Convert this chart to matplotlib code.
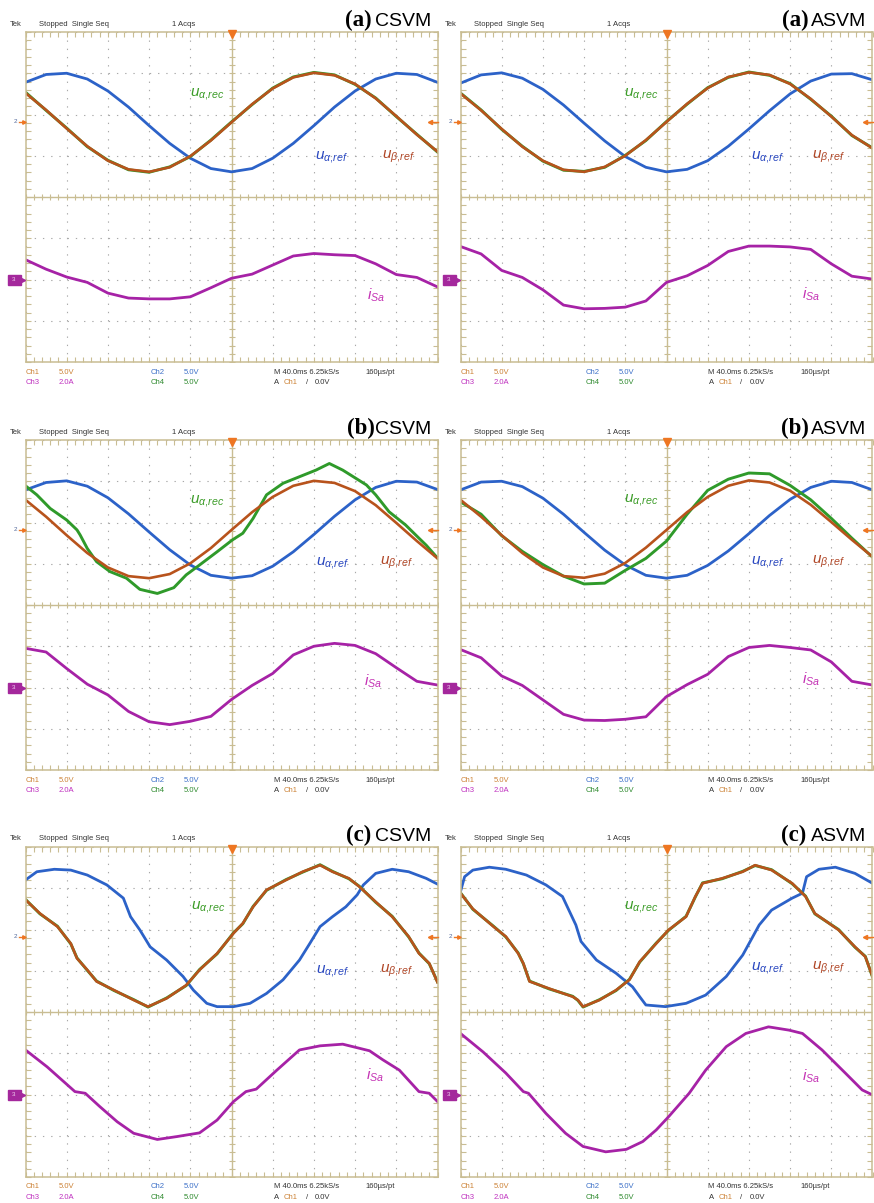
import matplotlib.pyplot as plt
import numpy as np
from matplotlib.patches import Rectangle

plt.rcParams['font.family'] = ['Liberation Sans', 'DejaVu Sans']
plt.rcParams['mathtext.fontset'] = 'custom'
plt.rcParams['mathtext.it'] = 'Liberation Sans:italic'
plt.rcParams['mathtext.rm'] = 'Liberation Sans'

# screen values in divisions (Ch1/Ch2/Ch4 5 V/div, Ch3 2 A/div), time in ms (40 ms/div)
t_ms = [0, 20, 40, 60, 80, 100, 120, 140, 160, 180, 200, 220, 240, 260, 280, 300, 320, 340, 360, 380, 400]

# (a) CSVM
ua_ref_a_csvm = [2.78, 2.97, 3.00, 2.86, 2.57, 2.18, 1.73, 1.30, 0.94, 0.69, 0.61, 0.69, 0.94, 1.30, 1.73, 2.18, 2.57, 2.86, 3.00, 2.97, 2.78]
ub_ref_a_csvm = [2.52, 2.11, 1.66, 1.23, 0.88, 0.67, 0.61, 0.72, 0.99, 1.37, 1.81, 2.25, 2.63, 2.90, 3.01, 2.95, 2.74, 2.39, 1.96, 1.51, 1.10]
ua_rec_a_csvm = [2.54, 2.10, 1.67, 1.22, 0.89, 0.66, 0.60, 0.73, 0.98, 1.38, 1.82, 2.24, 2.64, 2.91, 3.02, 2.96, 2.73, 2.40, 1.95, 1.52, 1.09]
isa_a_csvm = [-1.52, -1.75, -1.94, -2.07, -2.33, -2.45, -2.47, -2.47, -2.42, -2.20, -1.97, -1.87, -1.65, -1.43, -1.37, -1.40, -1.42, -1.62, -1.88, -1.95, -2.18]

# (a) ASVM
ua_ref_a_asvm = [2.76, 2.96, 3.01, 2.88, 2.61, 2.23, 1.79, 1.36, 0.98, 0.72, 0.61, 0.67, 0.88, 1.23, 1.65, 2.09, 2.50, 2.81, 2.98, 2.99, 2.84]
ub_ref_a_asvm = [2.51, 2.10, 1.65, 1.22, 0.88, 0.66, 0.61, 0.73, 1.00, 1.38, 1.82, 2.26, 2.64, 2.91, 3.02, 2.96, 2.74, 2.38, 1.95, 1.50, 1.18]
ua_rec_a_asvm = [2.52, 2.11, 1.64, 1.23, 0.87, 0.65, 0.62, 0.72, 1.01, 1.37, 1.83, 2.25, 2.65, 2.90, 3.03, 2.95, 2.75, 2.37, 1.96, 1.49, 1.19]
isa_a_asvm = [-1.20, -1.38, -1.78, -1.95, -2.25, -2.62, -2.71, -2.70, -2.67, -2.52, -2.07, -1.91, -1.66, -1.32, -1.19, -1.19, -1.21, -1.27, -1.62, -1.92, -1.99]

# (b) CSVM
ua_ref_b_csvm = [2.79, 2.97, 3.01, 2.88, 2.60, 2.21, 1.77, 1.34, 0.97, 0.72, 0.65, 0.71, 0.94, 1.29, 1.71, 2.15, 2.55, 2.85, 3.00, 2.98, 2.80]
ub_ref_b_csvm = [2.55, 2.14, 1.69, 1.26, 0.91, 0.70, 0.65, 0.75, 1.01, 1.38, 1.82, 2.25, 2.62, 2.89, 3.01, 2.96, 2.76, 2.42, 1.99, 1.55, 1.13]
t_rec_b_csvm = [0, 11, 24, 40, 50, 53, 60, 69, 82, 98, 111, 128, 144, 156, 169, 186, 201, 211, 221, 234,
                250, 266, 282, 295, 308, 331, 340, 353, 369, 382, 389, 400]
ua_rec_b_csvm = [2.89, 2.67, 2.34, 2.06, 1.82, 1.70, 1.37, 1.05, 0.81, 0.65, 0.38, 0.28, 0.42, 0.73, 0.97, 1.29, 1.58, 1.74, 2.10, 2.67,
                 2.95, 3.11, 3.27, 3.43, 3.27, 2.91, 2.67, 2.26, 1.94, 1.62, 1.45, 1.14]
isa_b_csvm = [-1.05, -1.14, -1.54, -1.92, -2.18, -2.58, -2.83, -2.90, -2.82, -2.70, -2.29, -1.95, -1.66, -1.21, -1.00, -0.93, -0.98, -1.18, -1.52, -1.85, -1.94]

# (b) ASVM
ua_ref_b_asvm = [2.79, 2.98, 3.00, 2.87, 2.59, 2.20, 1.76, 1.33, 0.97, 0.72, 0.65, 0.72, 0.96, 1.31, 1.73, 2.17, 2.56, 2.85, 3.00, 2.97, 2.79]
ub_ref_b_asvm = [2.55, 2.14, 1.69, 1.26, 0.91, 0.70, 0.66, 0.76, 1.02, 1.39, 1.82, 2.25, 2.62, 2.89, 3.02, 2.97, 2.77, 2.43, 2.01, 1.58, 1.17]
ua_rec_b_asvm = [2.50, 2.20, 1.68, 1.30, 0.98, 0.70, 0.51, 0.53, 0.84, 1.13, 1.55, 2.20, 2.78, 3.05, 3.20, 3.18, 2.90, 2.55, 2.10, 1.62, 1.16]
isa_b_asvm = [-1.08, -1.28, -1.72, -1.95, -2.30, -2.65, -2.79, -2.80, -2.77, -2.71, -2.22, -1.93, -1.68, -1.25, -1.03, -0.98, -1.03, -1.09, -1.38, -1.85, -1.94]

# (c) CSVM
t_ref_c_csvm = [0, 11, 28, 44, 60, 79, 95, 102, 111, 121, 137, 153, 163, 176, 186, 202, 218, 234, 250, 266,
                276, 286, 298, 311, 322, 328, 340, 356, 372, 389, 400]
ua_ref_c_csvm = [3.20, 3.40, 3.46, 3.44, 3.32, 3.08, 2.76, 2.31, 1.99, 1.58, 1.26, 0.86, 0.53, 0.21, 0.13, 0.13, 0.21, 0.45, 0.78, 1.26,
                 1.66, 2.07, 2.31, 2.55, 2.84, 3.08, 3.36, 3.46, 3.40, 3.24, 3.10]
t_b_c_csvm = [0, 14, 31, 44, 50, 60, 69, 86, 105, 119, 137, 156, 169, 186, 202, 211, 221, 234, 253, 269,
              286, 298, 314, 324, 340, 356, 372, 382, 392, 400]
ub_ref_c_csvm = [2.72, 2.39, 2.07, 1.66, 1.30, 1.02, 0.74, 0.53, 0.29, 0.13, 0.33, 0.65, 1.02, 1.42, 1.91, 2.15, 2.55, 2.96, 3.20, 3.40,
                 3.56, 3.40, 3.24, 3.04, 2.67, 2.31, 1.83, 1.42, 1.18, 0.72]
ua_rec_c_csvm = [2.73, 2.38, 2.08, 1.65, 1.31, 1.01, 0.75, 0.52, 0.30, 0.12, 0.34, 0.64, 1.03, 1.41, 1.92, 2.14, 2.56, 2.95, 3.21, 3.39,
                 3.57, 3.41, 3.23, 3.05, 2.66, 2.32, 1.82, 1.43, 1.17, 0.73]
t_i_c_csvm = [0, 21, 48, 58, 72, 89, 105, 128, 147, 169, 186, 202, 214, 224, 244, 266, 286, 308, 334, 347, 363, 382, 392, 400]
isa_c_csvm = [-0.92, -1.33, -1.93, -1.97, -2.29, -2.66, -2.94, -3.09, -3.02, -2.93, -2.62, -2.17, -1.93, -1.87, -1.41, -0.92,
              -0.82, -0.78, -0.94, -1.16, -1.41, -1.93, -1.97, -2.17]

# (c) ASVM
t_ref_c_asvm = [0, 4, 12, 28, 44, 64, 83, 99, 112, 117, 132, 151, 167, 174, 180, 199, 219, 238, 258, 274,
                290, 302, 322, 332, 336, 348, 364, 383, 400]
ua_ref_c_asvm = [2.92, 3.28, 3.44, 3.51, 3.46, 3.32, 3.08, 2.80, 2.11, 1.71, 1.26, 0.94, 0.61, 0.37, 0.17, 0.13, 0.21, 0.41, 0.86, 1.38,
                 2.11, 2.47, 2.76, 2.88, 3.28, 3.46, 3.51, 3.36, 3.12]
t_b_c_asvm = [0, 12, 32, 44, 56, 61, 67, 86, 109, 114, 119, 135, 151, 164, 174, 190, 202, 219, 228, 235,
              254, 274, 286, 302, 322, 335, 344, 367, 383, 393, 400]
ub_ref_c_asvm = [2.88, 2.50, 2.07, 1.83, 1.42, 1.18, 0.74, 0.57, 0.37, 0.29, 0.13, 0.29, 0.53, 0.78, 1.22, 1.66, 1.99, 2.31, 2.80, 3.12,
                 3.24, 3.40, 3.56, 3.44, 3.12, 2.80, 2.39, 1.99, 1.58, 1.34, 0.86]
ua_rec_c_asvm = [2.89, 2.49, 2.08, 1.82, 1.43, 1.17, 0.75, 0.56, 0.38, 0.28, 0.12, 0.30, 0.52, 0.79, 1.21, 1.67, 1.98, 2.32, 2.79, 3.13,
                 3.23, 3.41, 3.55, 3.45, 3.11, 2.81, 2.38, 2.00, 1.57, 1.35, 0.85]
t_i_c_asvm = [0, 22, 44, 61, 66, 83, 102, 119, 141, 161, 177, 190, 202, 222, 238, 258, 277, 299, 319, 332, 351, 374, 390, 400]
isa_c_asvm = [-0.52, -0.97, -1.48, -1.93, -1.97, -2.46, -2.94, -3.26, -3.39, -3.33, -3.14, -2.86, -2.54, -1.97, -1.41, -0.84,
              -0.52, -0.36, -0.44, -0.52, -0.92, -1.49, -1.89, -2.01]

# colours
TAN = '#c9bd93'
DOT = '#a9a9a9'
BLUE = '#2c62c8'
GREEN = '#2f9a2a'
ORANGE = '#b8531c'
MAG = '#a622a6'
TRIG = '#ee7622'

FW, FH = 874, 1203
PW, PH = 412, 330

fig = plt.figure(figsize=(FW / 100, FH / 100), dpi=100)
ov = fig.add_axes([0, 0, 1, 1], zorder=10)
ov.set_xlim(0, FW)
ov.set_ylim(FH, 0)
ov.axis('off')


def scope(x0, top, tag, name, gap, blue, green, orange, cur, lab):
    ax = fig.add_axes([x0 / FW, 1 - (top + PH) / FH, PW / FW, PH / FH])
    ax.set_xlim(0, 400)
    ax.set_ylim(-4, 4)
    ax.set_xticks(np.arange(0, 401, 40))
    ax.set_xticks(np.arange(0, 401, 8), minor=True)
    ax.set_yticks(np.arange(-4, 4.1, 1))
    ax.set_yticks(np.arange(-4, 4.01, 0.2), minor=True)
    ax.tick_params(which='both', direction='in', top=True, right=True, length=3.5, width=0.8,
                   color=TAN, labelleft=False, labelbottom=False)
    ax.grid(True, which='major', color=DOT, lw=0.8, linestyle=(0, (1.2, 6.2)))
    for s in ax.spines.values():
        s.set_color(TAN)
        s.set_linewidth(1.1)
    ax.axhline(0, color=TAN, lw=1.0)
    ax.axvline(200, color=TAN, lw=1.0)
    xs = np.arange(0, 401, 8)
    ys = np.arange(-4, 4.01, 0.2)
    ax.plot(xs, np.zeros(len(xs)), ls='none', marker='|', ms=5, mew=0.8, color=TAN)
    ax.plot(np.full(len(ys), 200), ys, ls='none', marker='_', ms=5, mew=0.8, color=TAN)

    ax.plot(blue[0], blue[1], color=BLUE, lw=2.0)
    ax.plot(green[0], green[1], color=GREEN, lw=2.1)
    ax.plot(orange[0], orange[1], color=ORANGE, lw=1.9)
    ax.plot(cur[0], cur[1], color=MAG, lw=2.0)

    ax.text(lab[0][0], lab[0][1], r'$u_{\alpha{,}rec}$', color='#3c9c28', fontsize=11, ha='left', va='center')
    ax.text(lab[1][0], lab[1][1], r'$u_{\alpha{,}ref}$', color='#2a48c0', fontsize=11, ha='left', va='center')
    ax.text(lab[2][0], lab[2][1], r'$u_{\beta{,}ref}$', color='#b04626', fontsize=11, ha='left', va='center')
    ax.text(lab[3][0], lab[3][1], r'$i_{Sa}$', color='#c432b4', fontsize=11, ha='left', va='center')

    # header and footer of the scope screen
    hy = top - 8
    ov.text(x0 - 15.5, hy, 'Tek', fontsize=5.5, color='#333333', va='center')
    ov.text(x0 + 13.5, hy, 'Stopped  Single Seq', fontsize=5.5, color='#333333', va='center')
    ov.text(x0 + 146.5, hy, '1 Acqs', fontsize=5.5, color='#333333', va='center')
    ov.text(x0 + 406, top - 6, name, fontsize=14, color='black', ha='right', va='baseline')
    ov.text(x0 + 406 - 57 - gap, top - 6, tag, fontsize=16.5, family='Liberation Serif',
            fontweight='bold', color='black', ha='right', va='baseline')

    by1 = top + PH + 10
    by2 = top + PH + 20.5
    ov.text(x0, by1, 'Ch1', fontsize=5.5, color='#cc8236', va='center')
    ov.text(x0 + 33, by1, '5.0V', fontsize=5.5, color='#cc8236', va='center')
    ov.text(x0, by2, 'Ch3', fontsize=5.5, color='#bf30bf', va='center')
    ov.text(x0 + 33, by2, '2.0A', fontsize=5.5, color='#bf30bf', va='center')
    ov.text(x0 + 125, by1, 'Ch2', fontsize=5.5, color='#3c70c8', va='center')
    ov.text(x0 + 158, by1, '5.0V', fontsize=5.5, color='#3c70c8', va='center')
    ov.text(x0 + 125, by2, 'Ch4', fontsize=5.5, color='#2e8a2e', va='center')
    ov.text(x0 + 158, by2, '5.0V', fontsize=5.5, color='#2e8a2e', va='center')
    ov.text(x0 + 248, by1, 'M 40.0ms 6.25kS/s', fontsize=5.5, color='#333333', va='center')
    ov.text(x0 + 340, by1, '160µs/pt', fontsize=5.5, color='#333333', va='center')
    ov.text(x0 + 248, by2, 'A', fontsize=5.5, color='#333333', va='center')
    ov.text(x0 + 258, by2, 'Ch1', fontsize=5.5, color='#cc8236', va='center')
    ov.text(x0 + 280, by2, '/', fontsize=5.5, color='#333333', va='center')
    ov.text(x0 + 289, by2, '0.0V', fontsize=5.5, color='#333333', va='center')

    # channel and trigger markers
    ov.plot(x0 + PW / 2, top + 2, marker='v', ms=6, color=TRIG)
    y1 = top + (4 - 1.82) * PH / 8
    ov.text(x0 - 10, y1, '2', fontsize=4.5, color='#51689a', ha='center', va='center')
    ov.plot([x0 - 7, x0 - 2], [y1, y1], color=TRIG, lw=1)
    ov.plot(x0 - 2, y1, marker='>', ms=2.5, color=TRIG)
    ov.plot([x0 + PW - 8, x0 + PW], [y1, y1], color=TRIG, lw=1)
    ov.plot(x0 + PW - 8, y1, marker='<', ms=3, color=TRIG)
    y3 = top + 6 * PH / 8
    ov.add_patch(Rectangle((x0 - 18, y3 - 5), 13, 10, color='#a4289c'))
    ov.text(x0 - 11.5, y3, '3', fontsize=4.5, color='#f0d0f0', ha='center', va='center')
    ov.plot(x0 - 3, y3, marker='>', ms=3, color='#a4289c')


tops = [32, 440, 847]
xl, xr = 25.5, 460.5

scope(xl, tops[0], '(a)', 'CSVM', 3, (t_ms, ua_ref_a_csvm), (t_ms, ua_rec_a_csvm), (t_ms, ub_ref_a_csvm),
      (t_ms, isa_a_csvm), [(160, 2.5), (281, 0.97), (346, 0.97), (332, -2.38)])
scope(xr, tops[0], '(a)', 'ASVM', 1, (t_ms, ua_ref_a_asvm), (t_ms, ua_rec_a_asvm), (t_ms, ub_ref_a_asvm),
      (t_ms, isa_a_asvm), [(159, 2.5), (282, 0.97), (341, 0.97), (332, -2.36)])
scope(xl, tops[1], '(b)', 'CSVM', 0, (t_ms, ua_ref_b_csvm), (t_rec_b_csvm, ua_rec_b_csvm), (t_ms, ub_ref_b_csvm),
      (t_ms, isa_b_csvm), [(160, 2.52), (282, 1.03), (344, 1.03), (329, -1.84)])
scope(xr, tops[1], '(b)', 'ASVM', 1, (t_ms, ua_ref_b_asvm), (t_ms, ua_rec_b_asvm), (t_ms, ub_ref_b_asvm),
      (t_ms, isa_b_asvm), [(159, 2.55), (282, 1.05), (341, 1.05), (332, -1.8)])
scope(xl, tops[2], '(c)', 'CSVM', 3, (t_ref_c_csvm, ua_ref_c_csvm), (t_b_c_csvm, ua_rec_c_csvm), (t_b_c_csvm, ub_ref_c_csvm),
      (t_i_c_csvm, isa_c_csvm), [(161, 2.54), (282, 1.0), (344, 1.0), (331, -1.53)])
scope(xr, tops[2], '(c)', 'ASVM', 3, (t_ref_c_asvm, ua_ref_c_asvm), (t_b_c_asvm, ua_rec_c_asvm), (t_b_c_asvm, ub_ref_c_asvm),
      (t_i_c_asvm, isa_c_asvm), [(159, 2.55), (282, 1.06), (341, 1.06), (332, -1.57)])

fig.savefig('out.png', dpi=100)
